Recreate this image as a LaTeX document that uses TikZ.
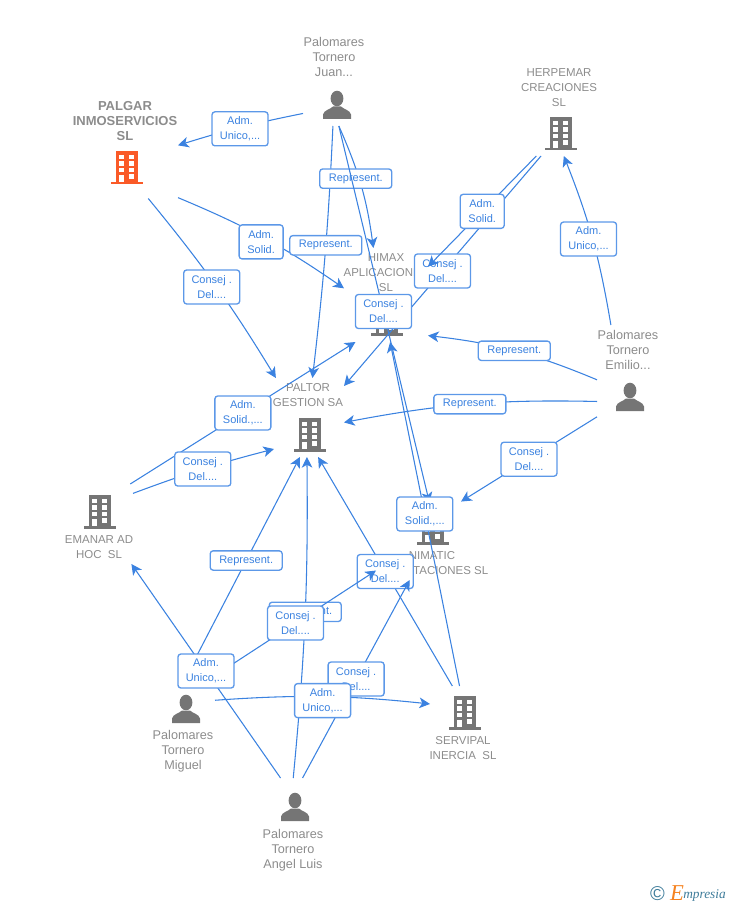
\documentclass[tikz,border=0pt]{standalone}
\usepackage{fontspec}
\setmainfont{Liberation Sans}
\newfontfamily\logofont{Liberation Serif}
\usetikzlibrary{arrows.meta}
\definecolor{linkblue}{HTML}{3B82E0}
\definecolor{boxblue}{HTML}{5C98E8}
\definecolor{icongray}{HTML}{757575}
\definecolor{textgray}{HTML}{8C8C8C}
\definecolor{iconorange}{HTML}{FA5A28}
\definecolor{logoteal}{HTML}{3E7C9A}
\definecolor{logoorange}{HTML}{F5821F}
\tikzset{
	ent/.style={inner sep=0pt,outer sep=0pt},
	entname/.style={text=textgray,align=center,inner sep=0pt,font=\fontsize{9.5}{11.25}\selectfont},
	entcap/.style={entname,font=\fontsize{8.6}{11.25}\selectfont},
	link/.style={linkblue,line width=.8pt,-{Stealth[length=8pt,width=8pt,inset=2.2pt]}},
	lab/.style={draw=boxblue,fill=white,text=linkblue,line width=1pt,rounded corners=2.2pt,align=center,
		inner sep=0pt,minimum width=42pt,minimum height=25.5pt,font=\fontsize{8.25}{11.25}\selectfont},
	labn/.style={lab,minimum width=33pt},
	labr/.style={lab,minimum width=54pt,minimum height=14.5pt},
	pics/person/.style={code={
		\fill[#1] (0,-6.5) ellipse (6.4 and 7.8);
		\fill[#1] (-14,14) -- (-14,9.5) .. controls (-13,5) and (-7,4.5) .. (-4,1.5) -- (4,1.5) .. controls (7,4.5) and (13,5) .. (14,9.5) -- (14,14) -- cycle;
	}},
	pics/building/.style={code={
		\fill[#1] (-11,-16) rectangle (11,15);
		\fill[#1] (-16,15) rectangle (16,17.5);
		\foreach \wy in {-12.3,-5.7,1} {
			\fill[white] (-7.7,\wy) rectangle +(5,4.4);
			\fill[white] (2.3,\wy) rectangle +(5,4.4);
		}
		\fill[white] (-7.7,7.7) rectangle (-2.7,15);
		\fill[white] (2.3,7.2) rectangle (7.3,11.6);
	}},
}
\begin{document}
\begin{tikzpicture}[x=.75pt,y=-.75pt]
	\useasboundingbox (0,0) rectangle (728,905);
	\node[ent,minimum width=51pt,minimum height=31.5pt] (juan) at (337,105) {};
	\node[ent,minimum width=76.5pt,minimum height=47.25pt] (palgar) at (127,167) {};
	\node[ent,minimum width=45pt,minimum height=34.5pt] (herpemar) at (561,133) {};
	\node[ent,minimum width=63pt,minimum height=70.5pt] (himax) at (386,295) {};
	\node[ent,minimum width=52.5pt,minimum height=59.25pt] (paltor) at (309,417.5) {};
	\node[ent,minimum width=51pt,minimum height=60pt] (emanar) at (99,524) {};
	\node[ent,minimum width=49.5pt,minimum height=78.75pt] (emilio) at (630,377.5) {};
	\node[ent,minimum width=63.75pt,minimum height=62.25pt] (nimatic) at (418.5,538.5) {};
	\node[ent,minimum width=52.5pt,minimum height=58.5pt] (servipal) at (465,725) {};
	\node[ent,minimum width=43.5pt,minimum height=79.5pt] (miguel) at (186,717) {};
	\node[ent,minimum width=60pt,minimum height=66pt] (angel) at (294,822) {};
	\node[entname] (juantext) at (334,57) {Palomares\\Tornero\\Juan...};
	\node[entname,font=\fontsize{9.75}{11.25}\selectfont\bfseries] (palgartext) at (125,121) {PALGAR\\INMOSERVICIOS\\SL};
	\node[entcap] (herpemartext) at (559,88) {HERPEMAR\\CREACIONES\\SL};
	\node[entcap] (himaxtext) at (386,273) {HIMAX\\APLICACIONES\\SL};
	\node[entcap] (paltortext) at (308,395.5) {PALTOR\\GESTION SA};
	\node[entcap] (emanartext) at (99,547.5) {EMANAR AD\\HOC\ \ SL};
	\node[entname] (emiliotext) at (628,350) {Palomares\\Tornero\\Emilio...};
	\node[entcap] (nimatictext) at (432,563.5) {NIMATIC\\IMPORTACIONES SL};
	\node[entcap] (servipaltext) at (463,748.5) {SERVIPAL\\INERCIA\ \ SL};
	\node[entname] (migueltext) at (183,751) {Palomares\\Tornero\\Miguel};
	\node[entname] (angeltext) at (293,850) {Palomares\\Tornero\\Angel Luis};
	\pic (juanicon) at (337,105) {person=icongray};
	\pic (emilioicon) at (630,397) {person=icongray};
	\pic (miguelicon) at (186,709) {person=icongray};
	\pic (angelicon) at (295,807) {person=icongray};
	\pic (palgaricon) at (127,167) {building=iconorange};
	\pic (herpemaricon) at (561,133) {building=icongray};
	\pic (himaxicon) at (387,318) {building=icongray};
	\pic (paltoricon) at (310,434) {building=icongray};
	\pic (emanaricon) at (100,511) {building=icongray};
	\pic (nimaticicon) at (433,527) {building=icongray};
	\pic (servipalicon) at (465,712) {building=icongray};
	\draw[link] (juan.194.8) to[bend right=3] node[lab,yshift=-1pt] (juanpalgar) {Adm.\\Unico,...} (palgar.23.3);
	\draw[link] (palgar.-31.3) to[bend left=6] node[labn,xshift=-2pt,yshift=-3pt] (palgarhimax) {Adm.\\Solid.} (himax.171.9);
	\draw[link] (palgar.-56.3) to[bend left=4] node[lab,xshift=-3pt,yshift=-1pt] (palgarpaltor) {Consej .\\Del....} (paltor.130.7);
	\draw[link] (juan.259.2) to[bend left=2] node[labr,pos=.47] (juanpaltor) {Represent.} (paltor.85.7);
	\draw[link] (juan.275.4) to[bend left=8] node[labr,pos=.42,xshift=-2pt,yshift=-1.5pt] (juanhimax) {Represent.} (himax.105.5);
	\draw[link] (herpemar.229) to node[lab] (herpemarpaltor) {Consej .\\Del....} (paltor.42.9);
	\draw[link] (herpemar.223.8) to node[labn] (herpemarhimax) {Adm.\\Solid.} (himax.34.6);
	\draw[link,shorten >=-4.5pt] (juan.275.4) to node[lab] (juannimatic) {Consej .\\Del....} (nimatic.77.1);
	\draw[link] (servipal.98.7) to node[lab] (servipalhimax) {Adm.\\Solid.,...} (himax.-85.1);
	\draw[link] (emilio.110.9) to[bend right=6] node[lab,xshift=-3pt] (emilioherpemar) {Adm.\\Unico,...} (herpemar.277.4);
	\draw[link] (emilio.184.3) to[bend right=8] node[labr] (emiliohimax) {Represent.} (himax.-44.3);
	\draw[link] (emilio.216.6) to[bend right=6] node[labr] (emiliopaltor) {Represent.} (paltor.-8.9);
	\draw[link] (emilio.230.8) to node[lab] (emilionimatic) {Consej .\\Del....} (nimatic.41.4);
	\draw[link] (emanar.52.2) to node[lab] (emanarhimax) {Adm.\\Solid.,...} (himax.237.4);
	\draw[link] (emanar.42.4) to[bend left=3] node[lab] (emanarpaltor) {Consej .\\Del....} (paltor.222.9);
	\draw[link] (miguel.83.5) to node[labr] (miguelpaltor) {Represent.} (paltor.257.2);
	\draw[link] (angel.91.3) to[bend right=3] node[labr,pos=.52] (angelpaltor) {Represent.} (paltor.267.1);
	\draw[link] (servipal.108.4) to node[lab] (servipalpaltor) {Consej .\\Del....} (paltor.-77.2);
	\draw[link] (miguel.55.4) to node[lab] (miguelnimatic) {Consej .\\Del....} (nimatic.217.4);
	\draw[link] (angel.107.7) to node[lab] (angelemanar) {Adm.\\Unico,...} (emanar.-51.3);
	\draw[link] (angel.79.7) to node[lab] (angelnimatic) {Consej .\\Del....} (nimatic.258.4);
	\draw[link] (miguel.30.4) to[bend left=5] node[lab,yshift=-3pt] (miguelservipal) {Adm.\\Unico,...} (servipal.149);
	\node[text=logoteal,inner sep=0pt,font=\fontsize{15}{15}\selectfont] (logoc) at (657.5,894) {\textcopyright};
	\node[text=logoorange,inner sep=0pt,font=\logofont\itshape\fontsize{17}{17}\selectfont] (logoe) at (677,893) {E};
	\node[text=logoteal,inner sep=0pt,anchor=west,font=\logofont\itshape\fontsize{10}{10}\selectfont] (logotext) at (683,895) {mpresia};
\end{tikzpicture}
\end{document}
